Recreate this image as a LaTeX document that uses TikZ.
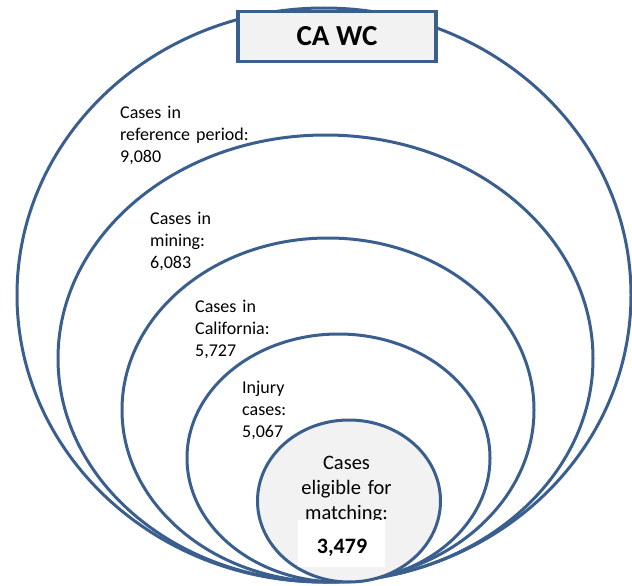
\documentclass[tikz,border=0pt]{standalone}
\usepackage{fontspec}
\setmainfont{Carlito}
\definecolor{ringblue}{HTML}{3A5F8E}
\definecolor{softgrey}{HTML}{F2F2F2}
\begin{document}
\begin{tikzpicture}[x=1pt,y=-1pt,
  ring/.style={draw=ringblue, line width=3pt},
  lbl/.style={inner sep=0pt, anchor=base west, text width=170pt, align=left,
              font=\fontsize{18}{22}\selectfont},
]
\useasboundingbox (0,0) rectangle (632,586);

% nested sets, all resting on the same bottom point
\draw[ring] (324,295)   ellipse [x radius=307pt,   y radius=287pt];
\draw[ring] (325.5,358.5) ellipse [x radius=267.5pt, y radius=223.5pt];
\draw[ring] (328,410)   ellipse [x radius=206pt,   y radius=172pt];
\draw[ring] (338.5,458) ellipse [x radius=151.5pt, y radius=124pt];
\draw[ring, fill=softgrey] (349,501) ellipse [x radius=91.5pt, y radius=81pt];

% title box
\node[draw=ringblue, line width=3.5pt, fill=softgrey, inner sep=0pt,
      minimum width=198pt, minimum height=50pt,
      font=\fontsize{29}{34}\selectfont\bfseries] (title) at (337,36.5) {CA WC};

% set labels
\node[lbl] (period) at (120,118) {Cases in\\reference period:\\9,080};
\node[lbl] (mining) at (150,224) {Cases in\\mining:\\6,083};
\node[lbl] (calif)  at (195,312) {Cases in\\California:\\5,727};
\node[lbl] (injury) at (242,393) {Injury\\cases:\\5,067};

\node[inner sep=0pt, anchor=base, text width=160pt, align=center,
      font=\fontsize{20.5}{25}\selectfont] (eligible) at (346.5,469)
      {Cases\\eligible for\\matching:};

% highlighted count
\node[fill=white, inner sep=0pt, minimum width=87pt, minimum height=47pt]
      (countbox) at (341.5,543.5) {};
\node[inner sep=0pt, anchor=base, font=\fontsize{22}{26}\selectfont\bfseries]
      (count) at (342,553) {3,479};
\end{tikzpicture}
\end{document}
